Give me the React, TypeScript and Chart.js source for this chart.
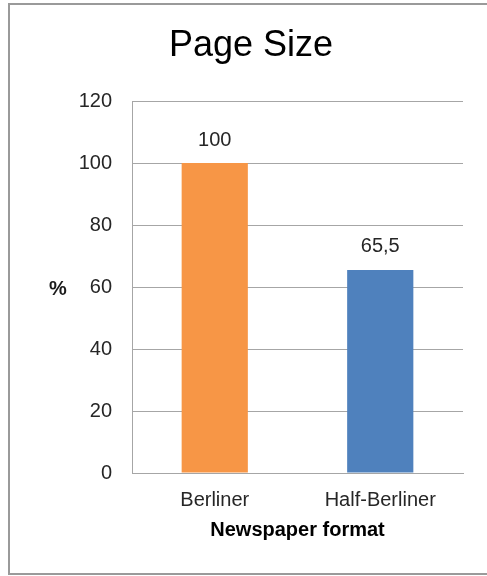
import React, { useEffect, useRef } from 'react';
import { Chart, registerables } from 'chart.js';

Chart.register(...registerables);

const categories = ['Berliner', 'Half-Berliner'];
const values = [100, 65.5];
const barColors = ['#F79646', '#4F81BD'];
const yMin = 0;
const yMax = 120;
const yStep = 20;
const titleText = 'Page Size';
const xTitleText = 'Newspaper format';
const yTitleText = '%';

const FONT = "'Liberation Sans', Arial, sans-serif";

const labelPlugin = {
  id: 'customLabels',
  afterDatasetsDraw(chart: any) {
    const ctx = chart.ctx;
    ctx.save();
    ctx.font = `20px ${FONT}`;
    ctx.fillStyle = '#262626';
    ctx.textAlign = 'center';
    ctx.textBaseline = 'middle';
    const meta = chart.getDatasetMeta(0);
    meta.data.forEach((bar: any, i: number) => {
      const v = chart.data.datasets[0].data[i];
      ctx.fillText(String(v).replace('.', ','), bar.x, bar.y - 23);
    });
    // y axis title, horizontal
    const ca = chart.chartArea;
    ctx.font = `bold 20px ${FONT}`;
    ctx.fillStyle = '#1a1a1a';
    ctx.fillText(yTitleText, 58, (ca.top + ca.bottom) / 2 + 2);
    ctx.restore();
  },
};

export default function App() {
  const ref = useRef<HTMLCanvasElement | null>(null);
  useEffect(() => {
    if (!ref.current) return;
    const chart = new Chart(ref.current, {
      type: 'bar',
      data: {
        labels: categories,
        datasets: [
          {
            data: values,
            backgroundColor: barColors,
            borderWidth: 0,
            barPercentage: 0.4,
            categoryPercentage: 1,
          },
        ],
      },
      options: {
        responsive: false,
        animation: false,
        devicePixelRatio: 1,
        layout: { padding: { left: 39, right: 24, top: 0, bottom: 34 } },
        plugins: {
          legend: { display: false },
          tooltip: { enabled: false },
          title: {
            display: true,
            text: titleText,
            color: '#000',
            font: { family: FONT, size: 36, weight: 'normal' },
            padding: { top: 24, bottom: 33.8 },
          },
        },
        scales: {
          x: {
            grid: { display: false, drawTicks: false },
            border: { display: true, color: '#a6a6a6', width: 1 },
            ticks: { color: '#262626', font: { family: FONT, size: 20 }, padding: 15 },
            title: {
              display: true,
              text: xTitleText,
              color: '#000',
              font: { family: FONT, size: 20, weight: 'bold' },
              padding: { top: 0, bottom: 0 },
            },
            afterFit(scale: any) {
              scale.height = 69;
            },
          },
          y: {
            min: yMin,
            max: yMax,
            grid: { color: '#a6a6a6', lineWidth: 1, drawTicks: false },
            border: { display: true, color: '#a6a6a6', width: 1 },
            ticks: {
              stepSize: yStep,
              color: '#262626',
              font: { family: FONT, size: 20 },
              padding: 20,
            },
            afterFit(scale: any) {
              scale.width = 93;
            },
          },
        },
      },
      plugins: [labelPlugin],
    } as any);
    return () => chart.destroy();
  }, []);

  return (
    <div
      style={{
        position: 'absolute',
        left: 0,
        top: 0,
        width: 487,
        height: 576,
        overflow: 'hidden',
        background: '#fff',
      }}
    >
      <div
        style={{
          position: 'absolute',
          left: 8,
          top: 3,
          width: 520,
          height: 568,
          border: '2px solid #9a9a9a',
        }}
      />
      <canvas
        ref={ref}
        width={487}
        height={576}
        style={{ position: 'absolute', left: 0, top: 0, width: 487, height: 576 }}
      />
    </div>
  );
}
